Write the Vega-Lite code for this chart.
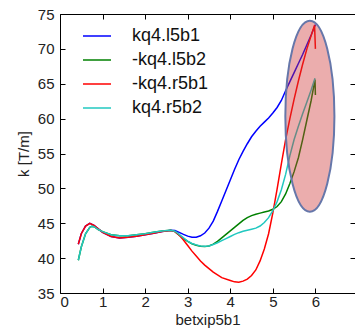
{
  "$schema": "https://vega.github.io/schema/vega-lite/v6.json",
  "width": 295,
  "height": 279,
  "autosize": {"type": "none"},
  "padding": {"left": 60, "top": 14, "right": 0, "bottom": 38},
  "background": "white",
  "config": {
    "view": {"stroke": null},
    "font": "Liberation Sans",
    "axis": {
      "grid": false,
      "domainColor": "#000000",
      "domainWidth": 1,
      "tickColor": "#000000",
      "tickSize": -5,
      "labelFont": "Liberation Sans",
      "labelFontSize": 15,
      "labelColor": "#222222",
      "titleFont": "Liberation Sans",
      "titleFontSize": 15,
      "titleFontWeight": "normal",
      "titleColor": "#222222"
    },
    "legend": {
      "orient": "none",
      "legendX": 22,
      "legendY": 7,
      "padding": 0,
      "symbolType": "stroke",
      "symbolSize": 784,
      "symbolStrokeWidth": 1.5,
      "labelFont": "Liberation Sans",
      "labelFontSize": 18,
      "labelColor": "#111111",
      "labelOffset": 20,
      "rowPadding": -3
    }
  },
  "datasets": {
    "curves": [
      {"series": "kq4.l5b1", "x": 0.43, "k": 42.0},
      {"series": "kq4.l5b1", "x": 0.5, "k": 43.5},
      {"series": "kq4.l5b1", "x": 0.6, "k": 44.6},
      {"series": "kq4.l5b1", "x": 0.7, "k": 45.0},
      {"series": "kq4.l5b1", "x": 0.8, "k": 44.7},
      {"series": "kq4.l5b1", "x": 0.9, "k": 44.2},
      {"series": "kq4.l5b1", "x": 1.0, "k": 43.7},
      {"series": "kq4.l5b1", "x": 1.2, "k": 43.1},
      {"series": "kq4.l5b1", "x": 1.4, "k": 42.9},
      {"series": "kq4.l5b1", "x": 1.6, "k": 43.0},
      {"series": "kq4.l5b1", "x": 1.8, "k": 43.15},
      {"series": "kq4.l5b1", "x": 2.0, "k": 43.35},
      {"series": "kq4.l5b1", "x": 2.2, "k": 43.55},
      {"series": "kq4.l5b1", "x": 2.4, "k": 43.8},
      {"series": "kq4.l5b1", "x": 2.6, "k": 44.0},
      {"series": "kq4.l5b1", "x": 2.7, "k": 43.95},
      {"series": "kq4.l5b1", "x": 2.8, "k": 43.7},
      {"series": "kq4.l5b1", "x": 2.9, "k": 43.4},
      {"series": "kq4.l5b1", "x": 3.0, "k": 43.15},
      {"series": "kq4.l5b1", "x": 3.1, "k": 43.0},
      {"series": "kq4.l5b1", "x": 3.2, "k": 43.0},
      {"series": "kq4.l5b1", "x": 3.3, "k": 43.2},
      {"series": "kq4.l5b1", "x": 3.4, "k": 43.6},
      {"series": "kq4.l5b1", "x": 3.5, "k": 44.3},
      {"series": "kq4.l5b1", "x": 3.6, "k": 45.3},
      {"series": "kq4.l5b1", "x": 3.7, "k": 46.7},
      {"series": "kq4.l5b1", "x": 3.8, "k": 48.2},
      {"series": "kq4.l5b1", "x": 3.9, "k": 49.7},
      {"series": "kq4.l5b1", "x": 4.0, "k": 51.2},
      {"series": "kq4.l5b1", "x": 4.1, "k": 52.7},
      {"series": "kq4.l5b1", "x": 4.2, "k": 54.1},
      {"series": "kq4.l5b1", "x": 4.3, "k": 55.3},
      {"series": "kq4.l5b1", "x": 4.4, "k": 56.4},
      {"series": "kq4.l5b1", "x": 4.5, "k": 57.4},
      {"series": "kq4.l5b1", "x": 4.6, "k": 58.2},
      {"series": "kq4.l5b1", "x": 4.7, "k": 58.9},
      {"series": "kq4.l5b1", "x": 4.8, "k": 59.5},
      {"series": "kq4.l5b1", "x": 4.9, "k": 60.1},
      {"series": "kq4.l5b1", "x": 5.0, "k": 60.8},
      {"series": "kq4.l5b1", "x": 5.1, "k": 61.6},
      {"series": "kq4.l5b1", "x": 5.2, "k": 62.6},
      {"series": "kq4.l5b1", "x": 5.3, "k": 64.0},
      {"series": "kq4.l5b1", "x": 5.4, "k": 65.3},
      {"series": "kq4.l5b1", "x": 5.5, "k": 66.6},
      {"series": "kq4.l5b1", "x": 5.6, "k": 67.9},
      {"series": "kq4.l5b1", "x": 5.7, "k": 69.2},
      {"series": "kq4.l5b1", "x": 5.8, "k": 70.6},
      {"series": "kq4.l5b1", "x": 5.9, "k": 72.0},
      {"series": "kq4.l5b1", "x": 6.0, "k": 73.5},

      {"series": "-kq4.l5b2", "x": 0.43, "k": 39.7},
      {"series": "-kq4.l5b2", "x": 0.5, "k": 41.6},
      {"series": "-kq4.l5b2", "x": 0.6, "k": 43.5},
      {"series": "-kq4.l5b2", "x": 0.7, "k": 44.4},
      {"series": "-kq4.l5b2", "x": 0.75, "k": 44.55},
      {"series": "-kq4.l5b2", "x": 0.8, "k": 44.5},
      {"series": "-kq4.l5b2", "x": 0.9, "k": 44.1},
      {"series": "-kq4.l5b2", "x": 1.0, "k": 43.8},
      {"series": "-kq4.l5b2", "x": 1.2, "k": 43.35},
      {"series": "-kq4.l5b2", "x": 1.4, "k": 43.2},
      {"series": "-kq4.l5b2", "x": 1.6, "k": 43.2},
      {"series": "-kq4.l5b2", "x": 1.8, "k": 43.35},
      {"series": "-kq4.l5b2", "x": 2.0, "k": 43.5},
      {"series": "-kq4.l5b2", "x": 2.2, "k": 43.7},
      {"series": "-kq4.l5b2", "x": 2.4, "k": 43.9},
      {"series": "-kq4.l5b2", "x": 2.6, "k": 44.0},
      {"series": "-kq4.l5b2", "x": 2.7, "k": 43.8},
      {"series": "-kq4.l5b2", "x": 2.8, "k": 43.3},
      {"series": "-kq4.l5b2", "x": 2.9, "k": 42.8},
      {"series": "-kq4.l5b2", "x": 3.0, "k": 42.4},
      {"series": "-kq4.l5b2", "x": 3.1, "k": 42.05},
      {"series": "-kq4.l5b2", "x": 3.2, "k": 41.85},
      {"series": "-kq4.l5b2", "x": 3.3, "k": 41.7},
      {"series": "-kq4.l5b2", "x": 3.4, "k": 41.65},
      {"series": "-kq4.l5b2", "x": 3.5, "k": 41.75},
      {"series": "-kq4.l5b2", "x": 3.6, "k": 42.0},
      {"series": "-kq4.l5b2", "x": 3.7, "k": 42.4},
      {"series": "-kq4.l5b2", "x": 3.8, "k": 42.9},
      {"series": "-kq4.l5b2", "x": 3.9, "k": 43.4},
      {"series": "-kq4.l5b2", "x": 4.0, "k": 43.9},
      {"series": "-kq4.l5b2", "x": 4.1, "k": 44.4},
      {"series": "-kq4.l5b2", "x": 4.2, "k": 44.9},
      {"series": "-kq4.l5b2", "x": 4.3, "k": 45.4},
      {"series": "-kq4.l5b2", "x": 4.4, "k": 45.8},
      {"series": "-kq4.l5b2", "x": 4.5, "k": 46.1},
      {"series": "-kq4.l5b2", "x": 4.6, "k": 46.3},
      {"series": "-kq4.l5b2", "x": 4.7, "k": 46.45},
      {"series": "-kq4.l5b2", "x": 4.8, "k": 46.6},
      {"series": "-kq4.l5b2", "x": 4.9, "k": 46.75},
      {"series": "-kq4.l5b2", "x": 5.0, "k": 47.0},
      {"series": "-kq4.l5b2", "x": 5.1, "k": 47.4},
      {"series": "-kq4.l5b2", "x": 5.2, "k": 48.1},
      {"series": "-kq4.l5b2", "x": 5.3, "k": 49.2},
      {"series": "-kq4.l5b2", "x": 5.4, "k": 50.7},
      {"series": "-kq4.l5b2", "x": 5.5, "k": 52.4},
      {"series": "-kq4.l5b2", "x": 5.6, "k": 54.4},
      {"series": "-kq4.l5b2", "x": 5.7, "k": 57.0},
      {"series": "-kq4.l5b2", "x": 5.8, "k": 59.8},
      {"series": "-kq4.l5b2", "x": 5.9, "k": 62.6},
      {"series": "-kq4.l5b2", "x": 5.99, "k": 65.6},
      {"series": "-kq4.l5b2", "x": 6.0, "k": 63.4},

      {"series": "-kq4.r5b1", "x": 0.43, "k": 42.0},
      {"series": "-kq4.r5b1", "x": 0.5, "k": 43.5},
      {"series": "-kq4.r5b1", "x": 0.6, "k": 44.6},
      {"series": "-kq4.r5b1", "x": 0.7, "k": 45.0},
      {"series": "-kq4.r5b1", "x": 0.8, "k": 44.7},
      {"series": "-kq4.r5b1", "x": 0.9, "k": 44.2},
      {"series": "-kq4.r5b1", "x": 1.0, "k": 43.7},
      {"series": "-kq4.r5b1", "x": 1.2, "k": 43.1},
      {"series": "-kq4.r5b1", "x": 1.4, "k": 42.9},
      {"series": "-kq4.r5b1", "x": 1.6, "k": 43.0},
      {"series": "-kq4.r5b1", "x": 1.8, "k": 43.15},
      {"series": "-kq4.r5b1", "x": 2.0, "k": 43.35},
      {"series": "-kq4.r5b1", "x": 2.2, "k": 43.55},
      {"series": "-kq4.r5b1", "x": 2.4, "k": 43.8},
      {"series": "-kq4.r5b1", "x": 2.6, "k": 43.95},
      {"series": "-kq4.r5b1", "x": 2.7, "k": 43.8},
      {"series": "-kq4.r5b1", "x": 2.8, "k": 43.3},
      {"series": "-kq4.r5b1", "x": 2.9, "k": 42.6},
      {"series": "-kq4.r5b1", "x": 3.0, "k": 41.8},
      {"series": "-kq4.r5b1", "x": 3.1, "k": 41.0},
      {"series": "-kq4.r5b1", "x": 3.2, "k": 40.3},
      {"series": "-kq4.r5b1", "x": 3.3, "k": 39.6},
      {"series": "-kq4.r5b1", "x": 3.4, "k": 39.0},
      {"series": "-kq4.r5b1", "x": 3.5, "k": 38.5},
      {"series": "-kq4.r5b1", "x": 3.6, "k": 38.0},
      {"series": "-kq4.r5b1", "x": 3.8, "k": 37.2},
      {"series": "-kq4.r5b1", "x": 4.0, "k": 36.8},
      {"series": "-kq4.r5b1", "x": 4.1, "k": 36.6},
      {"series": "-kq4.r5b1", "x": 4.2, "k": 36.55},
      {"series": "-kq4.r5b1", "x": 4.3, "k": 36.7},
      {"series": "-kq4.r5b1", "x": 4.4, "k": 37.0},
      {"series": "-kq4.r5b1", "x": 4.5, "k": 37.5},
      {"series": "-kq4.r5b1", "x": 4.6, "k": 38.3},
      {"series": "-kq4.r5b1", "x": 4.7, "k": 39.6},
      {"series": "-kq4.r5b1", "x": 4.8, "k": 41.3},
      {"series": "-kq4.r5b1", "x": 4.9, "k": 43.5},
      {"series": "-kq4.r5b1", "x": 5.0, "k": 46.5},
      {"series": "-kq4.r5b1", "x": 5.1, "k": 49.9},
      {"series": "-kq4.r5b1", "x": 5.2, "k": 53.5},
      {"series": "-kq4.r5b1", "x": 5.3, "k": 57.0},
      {"series": "-kq4.r5b1", "x": 5.4, "k": 60.0},
      {"series": "-kq4.r5b1", "x": 5.5, "k": 62.8},
      {"series": "-kq4.r5b1", "x": 5.6, "k": 65.4},
      {"series": "-kq4.r5b1", "x": 5.7, "k": 67.8},
      {"series": "-kq4.r5b1", "x": 5.8, "k": 70.0},
      {"series": "-kq4.r5b1", "x": 5.9, "k": 71.9},
      {"series": "-kq4.r5b1", "x": 5.98, "k": 73.4},
      {"series": "-kq4.r5b1", "x": 6.0, "k": 70.0},

      {"series": "kq4.r5b2", "x": 0.43, "k": 39.7},
      {"series": "kq4.r5b2", "x": 0.5, "k": 41.6},
      {"series": "kq4.r5b2", "x": 0.6, "k": 43.5},
      {"series": "kq4.r5b2", "x": 0.7, "k": 44.4},
      {"series": "kq4.r5b2", "x": 0.75, "k": 44.55},
      {"series": "kq4.r5b2", "x": 0.8, "k": 44.5},
      {"series": "kq4.r5b2", "x": 0.9, "k": 44.1},
      {"series": "kq4.r5b2", "x": 1.0, "k": 43.8},
      {"series": "kq4.r5b2", "x": 1.2, "k": 43.35},
      {"series": "kq4.r5b2", "x": 1.4, "k": 43.2},
      {"series": "kq4.r5b2", "x": 1.6, "k": 43.2},
      {"series": "kq4.r5b2", "x": 1.8, "k": 43.35},
      {"series": "kq4.r5b2", "x": 2.0, "k": 43.5},
      {"series": "kq4.r5b2", "x": 2.2, "k": 43.7},
      {"series": "kq4.r5b2", "x": 2.4, "k": 43.9},
      {"series": "kq4.r5b2", "x": 2.6, "k": 44.0},
      {"series": "kq4.r5b2", "x": 2.7, "k": 43.85},
      {"series": "kq4.r5b2", "x": 2.8, "k": 43.4},
      {"series": "kq4.r5b2", "x": 2.9, "k": 42.9},
      {"series": "kq4.r5b2", "x": 3.0, "k": 42.45},
      {"series": "kq4.r5b2", "x": 3.1, "k": 42.1},
      {"series": "kq4.r5b2", "x": 3.2, "k": 41.9},
      {"series": "kq4.r5b2", "x": 3.3, "k": 41.75},
      {"series": "kq4.r5b2", "x": 3.4, "k": 41.7},
      {"series": "kq4.r5b2", "x": 3.5, "k": 41.75},
      {"series": "kq4.r5b2", "x": 3.6, "k": 41.95},
      {"series": "kq4.r5b2", "x": 3.7, "k": 42.2},
      {"series": "kq4.r5b2", "x": 3.8, "k": 42.5},
      {"series": "kq4.r5b2", "x": 3.9, "k": 42.8},
      {"series": "kq4.r5b2", "x": 4.0, "k": 43.1},
      {"series": "kq4.r5b2", "x": 4.1, "k": 43.4},
      {"series": "kq4.r5b2", "x": 4.2, "k": 43.65},
      {"series": "kq4.r5b2", "x": 4.3, "k": 43.85},
      {"series": "kq4.r5b2", "x": 4.4, "k": 44.0},
      {"series": "kq4.r5b2", "x": 4.5, "k": 44.15},
      {"series": "kq4.r5b2", "x": 4.6, "k": 44.3},
      {"series": "kq4.r5b2", "x": 4.7, "k": 44.6},
      {"series": "kq4.r5b2", "x": 4.8, "k": 45.1},
      {"series": "kq4.r5b2", "x": 4.9, "k": 45.8},
      {"series": "kq4.r5b2", "x": 5.0, "k": 46.8},
      {"series": "kq4.r5b2", "x": 5.1, "k": 48.1},
      {"series": "kq4.r5b2", "x": 5.2, "k": 49.8},
      {"series": "kq4.r5b2", "x": 5.3, "k": 52.0},
      {"series": "kq4.r5b2", "x": 5.4, "k": 54.7},
      {"series": "kq4.r5b2", "x": 5.5, "k": 57.0},
      {"series": "kq4.r5b2", "x": 5.6, "k": 58.9},
      {"series": "kq4.r5b2", "x": 5.7, "k": 60.7},
      {"series": "kq4.r5b2", "x": 5.8, "k": 62.4},
      {"series": "kq4.r5b2", "x": 5.9, "k": 64.1},
      {"series": "kq4.r5b2", "x": 5.99, "k": 65.8}
    ],
    "ellipse": [{"x": 5.87, "k": 60.35}]
  },
  "resolve": {"axis": {"x": "independent", "y": "independent"}},
  "layer": [
    {
      "data": {"name": "curves"},
      "mark": {"type": "line", "strokeWidth": 1.5},
      "encoding": {
        "x": {
          "field": "x", "type": "quantitative",
          "scale": {"domain": [0, 6.93], "nice": false, "zero": false},
          "axis": {"title": "betxip5b1", "values": [0, 1, 2, 3, 4, 5, 6], "labelPadding": 6, "titlePadding": 3}
        },
        "y": {
          "field": "k", "type": "quantitative",
          "scale": {"domain": [35, 75], "nice": false, "zero": false},
          "axis": {"title": "k [T/m]", "values": [35, 40, 45, 50, 55, 60, 65, 70, 75], "labelPadding": 11, "titlePadding": 6}
        },
        "color": {
          "field": "series", "type": "nominal",
          "scale": {
            "domain": ["kq4.l5b1", "-kq4.l5b2", "-kq4.r5b1", "kq4.r5b2"],
            "range": ["#0000ff", "#008000", "#ff0000", "#22c8c0"]
          },
          "legend": {"title": null}
        }
      }
    },
    {
      "data": {"name": "ellipse"},
      "mark": {
        "type": "point",
        "shape": "M0,-1A0.257,1,0,1,1,0,1A0.257,1,0,1,1,0,-1Z",
        "filled": true,
        "fill": "#cc3333",
        "fillOpacity": 0.4,
        "stroke": "#6677aa",
        "strokeWidth": 2,
        "strokeOpacity": 1,
        "opacity": 1,
        "size": 36481
      },
      "encoding": {
        "x": {
          "field": "x", "type": "quantitative",
          "axis": {"orient": "top", "title": null, "labels": false, "values": [0, 1, 2, 3, 4, 5, 6]}
        },
        "y": {
          "field": "k", "type": "quantitative",
          "axis": {"orient": "right", "title": null, "labels": false, "domain": false, "values": [35, 40, 45, 50, 55, 60, 65, 70, 75]}
        }
      }
    }
  ]
}
